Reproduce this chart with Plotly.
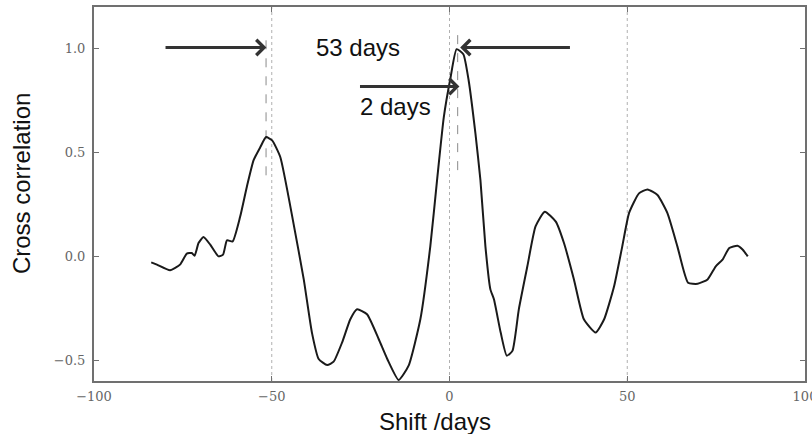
import plotly.graph_objects as go

# Cross-correlation curve
shift_days = [-83.9, -82.3, -78.6, -75.8, -73.9, -72.5, -71.7, -70.6, -69.2, -67.3,
              -65.0, -63.7, -62.6, -61.0, -58.9, -57.0, -55.1, -53.2, -51.6, -49.9,
              -47.6, -43.9, -41.0, -38.7, -36.8, -34.4, -32.6, -30.2, -27.9, -26.0,
              -23.2, -19.9, -17.5, -14.3, -11.5, -8.2, -5.4, -3.5, -1.6, 0.3,
              2.0, 3.9, 5.4, 7.3, 8.7, 10.1, 11.5, 12.5, 14.4, 16.1,
              17.7, 19.5, 21.9, 24.2, 26.8, 29.9, 32.2, 35.0, 37.8, 41.1,
              43.5, 46.3, 48.6, 50.5, 53.3, 55.7, 58.5, 61.3, 64.1, 67.1,
              69.8, 72.6, 74.9, 76.8, 78.7, 81.0, 82.5, 83.9]
cross_corr = [-0.029, -0.040, -0.067, -0.040, 0.013, 0.016, 0.003, 0.064, 0.093, 0.056,
              0.000, 0.008, 0.077, 0.072, 0.190, 0.335, 0.463, 0.526, 0.574, 0.558,
              0.478, 0.160, -0.111, -0.367, -0.494, -0.523, -0.507, -0.414, -0.303, -0.255,
              -0.279, -0.399, -0.494, -0.595, -0.526, -0.303, 0.048, 0.367, 0.670, 0.861,
              0.997, 0.973, 0.845, 0.590, 0.367, 0.048, -0.159, -0.207, -0.367, -0.478,
              -0.455, -0.255, -0.048, 0.144, 0.215, 0.167, 0.064, -0.111, -0.303, -0.367,
              -0.303, -0.144, 0.048, 0.208, 0.303, 0.322, 0.295, 0.208, 0.048, -0.127,
              -0.132, -0.111, -0.048, -0.016, 0.040, 0.051, 0.032, 0.000]

# Peak markers (dashed lines)
peak_lags = [-51.6, 2.3]
peak_line_bottom = [0.39, 0.415]
peak_line_top = [1.05, 1.075]

# Ticks
x_tickvals = [-100, -50, 0, 50, 100]
x_ticktext = ["\u2212100", "\u221250", "0", "50", "100"]
y_tickvals = [1.0, 0.5, 0.0, -0.5]
y_ticktext = ["1.0", "0.5", "0.0", "\u22120.5"]
grid_x = [-50, 0, 50]

# Annotated arrows: (tail_x, tail_y, head_x, head_y)
arrows = [(-80.3, 1.005, -51.5, 1.005),
          (34.3, 1.005, 3.0, 1.005),
          (-25.6, 0.817, 2.8, 0.817)]
labels = [("53 days", -25.6, 1.003), ("2 days", -15.1, 0.721)]

fig = go.Figure()
fig.add_trace(go.Scatter(x=shift_days, y=cross_corr, mode="lines",
                         line=dict(color="#1a1a1a", width=2, shape="spline", smoothing=0.5),
                         showlegend=False, hoverinfo="skip"))

shapes = []
for gx in grid_x:
    shapes.append(dict(type="line", xref="x", yref="paper", x0=gx, x1=gx, y0=0, y1=1,
                       line=dict(color="#b0b0b0", width=1, dash="dot"), layer="below"))
for lx, yb, yt in zip(peak_lags, peak_line_bottom, peak_line_top):
    shapes.append(dict(type="line", xref="x", yref="y", x0=lx, x1=lx, y0=yb, y1=yt,
                       line=dict(color="#8a8a8a", width=1, dash="dash"), layer="below"))

annotations = []
for tx, ty, hx, hy in arrows:
    annotations.append(dict(x=hx, y=hy, ax=tx, ay=ty, xref="x", yref="y", axref="x", ayref="y",
                            text="", showarrow=True, arrowhead=4, arrowsize=1.0,
                            arrowwidth=3, arrowcolor="#333333"))
for txt, lx, ly in labels:
    annotations.append(dict(x=lx, y=ly, xref="x", yref="y", text=txt, showarrow=False,
                            xanchor="center", yanchor="middle",
                            font=dict(family="Liberation Sans, Arial", size=24, color="#111111")))
annotations.append(dict(x=-0.1028, y=0.529, xref="paper", yref="paper", text="Cross correlation",
                        textangle=-90, showarrow=False, xanchor="center", yanchor="middle",
                        font=dict(family="Liberation Sans, Arial", size=24, color="#111111")))
annotations.append(dict(x=0.479, y=-0.107, xref="paper", yref="paper", text="Shift /days",
                        showarrow=False, xanchor="center", yanchor="middle",
                        font=dict(family="Liberation Sans, Arial", size=24, color="#111111")))

axis_common = dict(showline=True, linecolor="#707070", linewidth=2, mirror="ticks",
                   ticks="inside", ticklen=5, tickcolor="#707070", tickwidth=1,
                   showgrid=False, zeroline=False, ticklabeloverflow="allow",
                   automargin=False,
                   tickfont=dict(family="DejaVu Serif", size=13, color="#666666"))

fig.update_layout(
    width=812, height=434,
    margin=dict(l=94, r=7, t=7, b=53),
    paper_bgcolor="white", plot_bgcolor="white",
    xaxis=dict(range=[-100, 100], tickvals=x_tickvals, ticktext=x_ticktext,
               ticklabelstandoff=2, **axis_common),
    yaxis=dict(range=[-0.6, 1.2], tickvals=y_tickvals, ticktext=y_ticktext,
               ticklabelstandoff=4, **axis_common),
    shapes=shapes,
    annotations=annotations,
)

fig.write_html("out.html", config={"displayModeBar": False},
               post_script="document.body.style.margin='0';document.body.style.overflow='hidden';")
